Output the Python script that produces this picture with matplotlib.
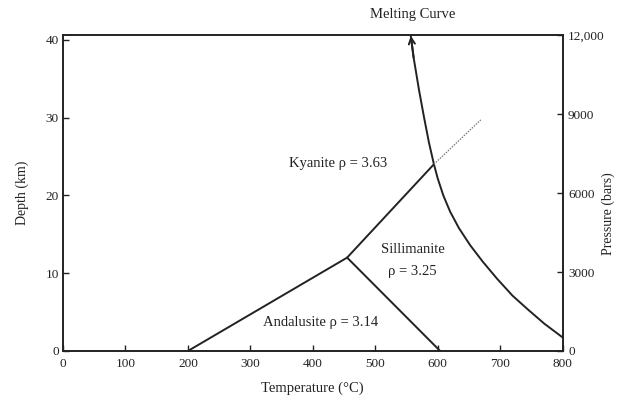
import matplotlib.pyplot as plt

# ── Data ──────────────────────────────────────────────────────────────────
# phase boundaries (temperature in °C, depth in km)
and_ky_T = [200, 455]
and_ky_D = [0, 12.0]
ky_sil_T = [455, 594]
ky_sil_D = [12.0, 24.0]
and_sil_T = [455, 604]
and_sil_D = [12.0, 0]
extension_T = [594, 669]
extension_D = [24.0, 29.7]

# melting curve, top (arrow) to bottom
melt_T = [557, 561.5, 570, 578, 586, 594, 600, 609, 620, 634, 652, 672,
          695, 720, 745, 771, 800]
melt_D = [40.5, 37.7, 33.6, 30.1, 26.8, 24.0, 22.2, 20.0, 17.9, 15.8, 13.6, 11.5,
          9.3, 7.1, 5.3, 3.5, 1.75]

# region labels: (text, T, D)
labels = [
    ("Kyanite ρ = 3.63", 440, 24.1),
    ("Sillimanite", 561, 13.0),
    ("ρ = 3.25", 559, 10.2),
    ("Andalusite ρ = 3.14", 413, 3.7),
]

x_ticks = [0, 100, 200, 300, 400, 500, 600, 700, 800]
y_ticks = [0, 10, 20, 30, 40]
p_ticks = [0, 3000, 6000, 9000, 12000]
p_labels = ["0", "3000", "6000", "9000", "12,000"]

BAR_PER_KM = 12000 / 40.6
INK = "#222222"

plt.rcParams['font.family'] = ['Liberation Serif', 'DejaVu Serif']
plt.rcParams['font.size'] = 10.5

fig = plt.figure(figsize=(6.19, 4.04), dpi=100, facecolor="white")
ax = fig.add_axes([0.1018, 0.1312, 0.807, 0.782])

for spine in ax.spines.values():
    spine.set_color(INK)
    spine.set_linewidth(1.4)

line_kw = dict(color=INK, lw=1.4, solid_capstyle='round', solid_joinstyle='round')
ax.plot(and_ky_T, and_ky_D, **line_kw)
ax.plot(ky_sil_T, ky_sil_D, **line_kw)
ax.plot(and_sil_T, and_sil_D, **line_kw)
ax.plot(melt_T, melt_D, **line_kw)
ax.plot(extension_T, extension_D, color="#777777", lw=0.9, ls=(0, (1.2, 1.0)))

# open arrowhead at the top of the melting curve
ax.annotate("", xy=(melt_T[0], melt_D[0]), xytext=(melt_T[1], melt_D[1]),
            arrowprops=dict(arrowstyle='->', color=INK, lw=1.4, mutation_scale=11,
                            shrinkA=0, shrinkB=0))

for txt, t, d in labels:
    ax.text(t, d, txt, ha='center', va='center', color=INK, fontsize=10.5)

ax.text(560, 43.3, "Melting Curve", ha='center', va='center', color=INK,
        fontsize=10.5, clip_on=False)

ax.set_xlim(0, 800)
ax.set_ylim(0, 40.6)
ax.set_xticks(x_ticks)
ax.set_yticks(y_ticks)
ax.tick_params(direction='in', length=4, width=1, colors=INK, labelsize=9.5)
ax.tick_params(axis='x', pad=5)
ax.tick_params(axis='y', pad=3)

ax.set_xlabel("Temperature (°C)", color=INK, fontsize=10.5, labelpad=8)
ax.set_ylabel("Depth (km)", color=INK, fontsize=10, labelpad=12)

sec = ax.secondary_yaxis('right', functions=(lambda d: d * BAR_PER_KM,
                                             lambda p: p / BAR_PER_KM))
sec.set_yticks(p_ticks)
sec.set_yticklabels(p_labels)
sec.tick_params(direction='in', length=4, width=1, colors=INK, labelsize=9.5, pad=4)
sec.spines['right'].set_visible(False)

fig.text(0.982, 0.47, "Pressure (bars)", rotation=90, ha='center', va='center',
         color=INK, fontsize=10)

fig.savefig("out.png", dpi=100, facecolor="white")
